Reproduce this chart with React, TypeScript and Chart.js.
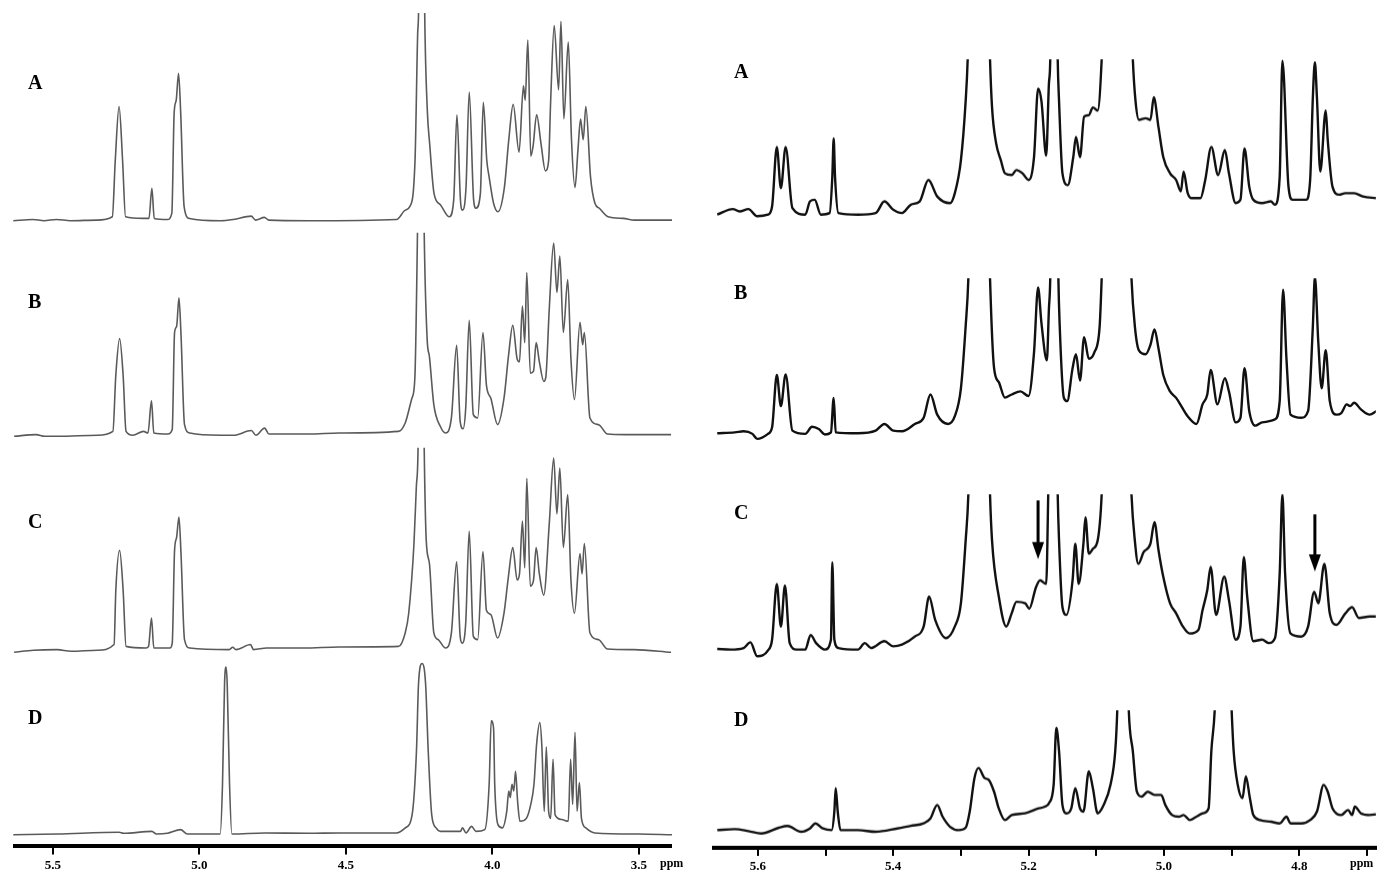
import { useEffect, useRef } from 'react'
import { Chart, registerables } from 'chart.js'

Chart.register(...registerables)

// ---- left column: 3.39 – 5.64 ppm, intensity in % of the plotted height (100 = top of row)
const leftAPpm = [5.635, 5.568, 5.530, 5.488, 5.440, 5.350, 5.297, 5.287, 5.274, 5.262, 5.252, 5.192, 5.177, 5.172, 5.162, 5.154, 5.109, 5.094, 5.086, 5.079, 5.071, 5.064, 5.052, 5.034, 4.929, 4.884, 4.823, 4.808, 4.778, 4.763, 4.628, 4.327, 4.297, 4.282, 4.264, 4.255, 4.252, 4.241, 4.231, 4.222, 4.214, 4.199, 4.177, 4.147, 4.132, 4.121, 4.109, 4.102, 4.090, 4.079, 4.064, 4.056, 4.041, 4.031, 4.019, 4.011, 3.996, 3.981, 3.959, 3.944, 3.929, 3.909, 3.894, 3.888, 3.879, 3.869, 3.861, 3.849, 3.834, 3.819, 3.808, 3.801, 3.789, 3.774, 3.766, 3.756, 3.741, 3.730, 3.718, 3.708, 3.699, 3.690, 3.681, 3.665, 3.650, 3.635, 3.605, 3.553, 3.515, 3.387]
const leftAInt = [0, 0.6, 0, 0.6, 0, 0.3, 1.9, 29, 55, 29, 1.9, 1.1, 1.1, 1.1, 15.6, 1.1, 0.6, 3.5, 52, 58, 71, 53, 6.8, 1.1, 0, 0.6, 2.2, 0.3, 1.6, 0.3, 0, 0.6, 5.1, 6.8, 29, 90, 100, 250, 100, 53, 37, 13, 7.6, 1.9, 10, 51, 10, 5.1, 16, 62, 10, 6, 13, 57, 29, 21, 8.4, 4.3, 16, 39, 56, 33, 65, 58, 87, 31, 36, 51, 37, 24, 29, 58, 94, 63, 96, 49, 86, 39, 16, 34, 49, 39, 55, 21, 8.4, 6, 1.9, 1.1, 0.3, 0.3]

const leftBPpm = [5.635, 5.560, 5.530, 5.485, 5.350, 5.297, 5.287, 5.274, 5.262, 5.252, 5.229, 5.192, 5.177, 5.165, 5.157, 5.109, 5.094, 5.086, 5.079, 5.071, 5.064, 5.052, 5.034, 4.929, 4.884, 4.823, 4.808, 4.778, 4.763, 4.628, 4.523, 4.320, 4.297, 4.274, 4.264, 4.255, 4.243, 4.232, 4.222, 4.214, 4.199, 4.177, 4.159, 4.139, 4.121, 4.109, 4.099, 4.090, 4.078, 4.064, 4.049, 4.031, 4.019, 4.004, 3.981, 3.959, 3.944, 3.929, 3.914, 3.906, 3.896, 3.888, 3.881, 3.869, 3.858, 3.849, 3.838, 3.823, 3.816, 3.804, 3.789, 3.778, 3.768, 3.756, 3.741, 3.730, 3.718, 3.699, 3.690, 3.684, 3.665, 3.635, 3.605, 3.545, 3.387]
const leftBInt = [0, 0.8, 0, 0, 0.5, 2.4, 30, 48, 30, 2.4, 0.5, 2.4, 1.6, 17.4, 1.6, 1.1, 3.3, 51, 54, 68, 50, 5.7, 1.6, 0.5, 0.5, 2.8, 0.5, 4, 1.1, 1.1, 1.6, 2.4, 6.5, 18.7, 28.5, 100, 250, 100, 48, 39, 15.4, 4.9, 1.6, 9, 44.7, 7.3, 3.7, 13.8, 57, 10.6, 9, 51, 25, 18.7, 5.7, 18.7, 39, 54.5, 38, 36.6, 64, 46, 80.5, 31, 32, 46, 36.6, 27, 29, 63, 95, 70.7, 88.6, 51, 77, 38, 18, 56, 45, 51, 9, 5.7, 1.1, 0.8, 0.8]

const leftCPpm = [5.635, 5.568, 5.488, 5.440, 5.350, 5.293, 5.287, 5.274, 5.262, 5.252, 5.184, 5.175, 5.165, 5.157, 5.102, 5.094, 5.086, 5.079, 5.071, 5.064, 5.052, 5.034, 4.899, 4.887, 4.876, 4.826, 4.816, 4.771, 4.643, 4.523, 4.320, 4.297, 4.285, 4.267, 4.259, 4.253, 4.243, 4.232, 4.225, 4.214, 4.199, 4.184, 4.159, 4.139, 4.121, 4.109, 4.102, 4.090, 4.078, 4.064, 4.049, 4.031, 4.019, 4.004, 3.981, 3.959, 3.944, 3.929, 3.914, 3.906, 3.896, 3.888, 3.881, 3.869, 3.858, 3.849, 3.838, 3.823, 3.804, 3.789, 3.778, 3.768, 3.756, 3.741, 3.730, 3.718, 3.699, 3.692, 3.684, 3.665, 3.635, 3.605, 3.515, 3.387]
const leftCInt = [-0.5, 0.5, 0.8, 0, 0.5, 3.3, 30, 49.6, 30, 2.4, 1.6, 2.4, 16.3, 1.6, 1.6, 4, 49.6, 56, 66, 48, 5.7, 1.6, 0.8, 2, 0.8, 3.3, 0.8, 1.6, 1.6, 2.1, 2.4, 9, 18.7, 53, 80.5, 100, 250, 100, 54.5, 43, 9, 5.7, 1.6, 9, 44, 7.3, 4, 13.8, 59, 7.3, 5.7, 49, 20, 18, 6.5, 18.7, 36.6, 51, 35, 38, 64, 41, 85, 32, 35, 51, 38, 27.6, 63, 95, 67.5, 90, 51, 77, 35, 18.7, 48, 38, 53, 9, 5.7, 1.1, 0.8, -0.5]

const leftDPpm = [5.635, 5.485, 5.274, 5.259, 5.162, 5.147, 5.109, 5.064, 5.041, 4.929, 4.921, 4.914, 4.909, 4.905, 4.897, 4.889, 4.778, 4.628, 4.523, 4.327, 4.297, 4.274, 4.259, 4.252, 4.240, 4.228, 4.219, 4.207, 4.192, 4.177, 4.109, 4.102, 4.090, 4.071, 4.056, 4.026, 4.011, 4.004, 3.996, 3.992, 3.981, 3.966, 3.951, 3.944, 3.939, 3.933, 3.927, 3.921, 3.914, 3.906, 3.884, 3.869, 3.858, 3.849, 3.838, 3.831, 3.823, 3.816, 3.808, 3.801, 3.793, 3.786, 3.763, 3.741, 3.733, 3.726, 3.718, 3.711, 3.703, 3.696, 3.681, 3.650, 3.500, 3.387]
const leftDInt = [-0.4, 0, 1, 0.4, 1.5, 0, 0.4, 2.5, 0, 0, 28.6, 86.5, 96, 86.5, 28.6, 0, 0.6, 0.4, 0.6, 0.6, 3.5, 11, 48, 86.5, 98, 86.5, 48, 11, 3.5, 1.5, 1.5, 3.5, 0.6, 4.4, 1.5, 2.5, 28.6, 65, 61, 28.6, 5.4, 3.5, 13, 24.7, 21, 28.6, 24.7, 36, 19, 7.3, 9, 17, 28.6, 51.7, 64, 50, 13, 50, 13, 9, 43, 11, 8.3, 7.3, 43, 17, 58.5, 13, 29.5, 9, 3.5, 0.6, 0, -0.4]

// ---- right column: expanded 4.69 – 5.67 ppm
const rightAPpm = [5.660, 5.637, 5.627, 5.614, 5.601, 5.585, 5.579, 5.572, 5.566, 5.559, 5.549, 5.530, 5.523, 5.516, 5.507, 5.494, 5.490, 5.488, 5.486, 5.481, 5.452, 5.426, 5.413, 5.400, 5.387, 5.374, 5.361, 5.348, 5.335, 5.316, 5.309, 5.300, 5.293, 5.290, 5.274, 5.257, 5.254, 5.248, 5.241, 5.235, 5.225, 5.218, 5.209, 5.200, 5.192, 5.186, 5.181, 5.174, 5.170, 5.168, 5.163, 5.157, 5.155, 5.150, 5.142, 5.134, 5.130, 5.124, 5.118, 5.111, 5.105, 5.098, 5.092, 5.069, 5.046, 5.042, 5.037, 5.027, 5.020, 5.015, 5.008, 5.001, 4.991, 4.982, 4.975, 4.971, 4.965, 4.959, 4.946, 4.939, 4.930, 4.920, 4.910, 4.904, 4.894, 4.887, 4.881, 4.874, 4.868, 4.855, 4.842, 4.836, 4.829, 4.825, 4.816, 4.810, 4.790, 4.784, 4.780, 4.777, 4.774, 4.769, 4.761, 4.758, 4.751, 4.741, 4.732, 4.719, 4.706, 4.686]
const rightAInt = [0, 3.6, 2.1, 3.6, -1, 0, 5.3, 43.6, 17, 43.6, 4.3, 0, 8.5, 9.6, 0, 1, 24.5, 49, 24.5, 1, 0, 1, 8.5, 3.2, 1, 6.4, 8.5, 22.3, 11.7, 7.4, 13.8, 35, 73, 100, 400, 100, 69, 46, 35, 26.6, 25.5, 28.7, 26.6, 22.3, 37, 81, 73, 38, 84, 100, 300, 100, 73, 26.6, 19, 37, 50, 37, 63, 64, 69, 67, 100, 400, 100, 73, 61, 62, 61, 75.5, 56, 37, 26.6, 22.3, 15, 27.7, 14, 10.6, 10.6, 22.3, 43.6, 25.5, 41.5, 26.6, 7.4, 9.6, 42.5, 18, 9.6, 7.4, 8.5, 6.4, 24.5, 99, 18, 9.6, 9.6, 22.3, 75.5, 98, 75.5, 27.7, 67, 48, 18, 12.8, 13.8, 13.8, 11.7, 10.6]

const rightBPpm = [5.660, 5.634, 5.621, 5.608, 5.601, 5.585, 5.579, 5.572, 5.566, 5.559, 5.549, 5.530, 5.520, 5.510, 5.501, 5.492, 5.488, 5.485, 5.452, 5.426, 5.413, 5.400, 5.387, 5.368, 5.355, 5.345, 5.335, 5.319, 5.309, 5.300, 5.293, 5.289, 5.273, 5.257, 5.251, 5.244, 5.235, 5.225, 5.212, 5.200, 5.192, 5.186, 5.181, 5.173, 5.170, 5.168, 5.162, 5.156, 5.154, 5.148, 5.143, 5.135, 5.130, 5.124, 5.118, 5.111, 5.103, 5.095, 5.092, 5.070, 5.048, 5.043, 5.037, 5.027, 5.020, 5.014, 5.008, 5.001, 4.991, 4.982, 4.973, 4.965, 4.952, 4.943, 4.936, 4.931, 4.921, 4.910, 4.904, 4.894, 4.887, 4.881, 4.874, 4.865, 4.855, 4.836, 4.829, 4.824, 4.819, 4.813, 4.797, 4.787, 4.780, 4.777, 4.772, 4.767, 4.761, 4.755, 4.745, 4.738, 4.730, 4.725, 4.719, 4.709, 4.696, 4.686]
const rightBInt = [0, 0.6, 1.3, -0.4, -3.6, -0.4, 3.8, 37.6, 17.5, 38, 1.7, -0.4, 4.2, 2.7, -0.8, 0.6, 22.8, 0.6, 0, 1.7, 6, 1.7, 1.3, 6, 10, 25, 12, 6, 11, 29, 69, 100, 400, 100, 42, 33, 23, 25, 27, 24, 52, 94, 71, 47, 80, 100, 300, 100, 69, 23, 20.7, 42, 51, 34, 62, 48, 52, 69, 100, 400, 100, 69, 53.5, 51, 57, 67, 54.5, 37.6, 27, 22.8, 16.5, 11, 6, 18.6, 25, 40.8, 18.6, 35.5, 27, 7, 10, 42, 14.4, 4.9, 7, 9, 20.7, 92.6, 48, 12, 10, 14.4, 69, 101, 59, 29, 53.5, 20.7, 12, 13, 18.6, 17.5, 19.7, 15.4, 12, 14.4]

const rightCPpm = [5.660, 5.640, 5.621, 5.611, 5.601, 5.585, 5.579, 5.572, 5.566, 5.560, 5.553, 5.543, 5.530, 5.522, 5.514, 5.501, 5.492, 5.490, 5.487, 5.481, 5.452, 5.442, 5.433, 5.413, 5.400, 5.387, 5.368, 5.355, 5.347, 5.338, 5.322, 5.309, 5.300, 5.293, 5.289, 5.273, 5.257, 5.254, 5.244, 5.233, 5.225, 5.218, 5.205, 5.199, 5.189, 5.183, 5.174, 5.171, 5.164, 5.157, 5.155, 5.150, 5.144, 5.135, 5.131, 5.126, 5.119, 5.116, 5.111, 5.105, 5.098, 5.092, 5.070, 5.048, 5.043, 5.038, 5.030, 5.020, 5.014, 5.008, 5.001, 4.991, 4.982, 4.972, 4.962, 4.949, 4.943, 4.936, 4.931, 4.923, 4.911, 4.904, 4.894, 4.887, 4.882, 4.877, 4.868, 4.855, 4.845, 4.836, 4.829, 4.825, 4.821, 4.813, 4.797, 4.787, 4.778, 4.772, 4.763, 4.755, 4.745, 4.732, 4.722, 4.712, 4.696, 4.686]
const rightCInt = [0, -0.4, 0.6, 4.3, -4.7, -0.9, 6, 42, 14.5, 41, 3.8, -0.4, -0.4, 9, 3.8, -0.4, 6, 56, 6, 0.6, -0.4, 3.8, 0.6, 5, 1.7, 2.8, 8, 14.5, 33.8, 18.8, 7, 14.5, 29.5, 70, 100, 400, 100, 70, 33.8, 14.5, 23, 30.5, 29.5, 26, 40, 44.4, 42, 100, 300, 100, 70, 27, 22, 44.4, 68, 42, 68, 85, 61.5, 64.7, 70, 100, 400, 100, 70, 55, 62.6, 68, 82, 63.7, 46.6, 29.5, 23, 14.5, 10, 12.4, 25, 38, 53, 22, 46.6, 31.6, 6, 14.5, 59.4, 33.8, 5, 6, 3.8, 7, 48.7, 100, 48.7, 10, 8, 14.5, 37, 29.5, 55, 23, 15.6, 23, 27, 20, 21, 21]

const rightDPpm = [5.660, 5.634, 5.614, 5.595, 5.569, 5.556, 5.536, 5.523, 5.515, 5.504, 5.491, 5.487, 5.485, 5.482, 5.478, 5.452, 5.426, 5.394, 5.374, 5.355, 5.345, 5.335, 5.327, 5.316, 5.303, 5.293, 5.287, 5.280, 5.274, 5.265, 5.259, 5.251, 5.244, 5.235, 5.225, 5.205, 5.186, 5.176, 5.170, 5.163, 5.159, 5.155, 5.150, 5.144, 5.137, 5.131, 5.124, 5.119, 5.111, 5.105, 5.098, 5.089, 5.079, 5.072, 5.069, 5.061, 5.052, 5.046, 5.040, 5.033, 5.024, 5.014, 5.004, 4.998, 4.988, 4.978, 4.971, 4.962, 4.952, 4.943, 4.934, 4.930, 4.925, 4.913, 4.900, 4.897, 4.891, 4.884, 4.879, 4.873, 4.868, 4.858, 4.842, 4.829, 4.819, 4.813, 4.797, 4.784, 4.774, 4.764, 4.758, 4.751, 4.738, 4.728, 4.722, 4.718, 4.709, 4.696, 4.686]
const rightDInt = [0, 0.8, -0.8, -2.8, 2, 3.4, -1.4, 1.4, 5.6, 1.4, 0, 15.4, 35, 15.4, 0, 0, -1.4, 1.4, 3.6, 5.6, 9.8, 21, 11.2, 2.8, 0, 2, 15.4, 43.4, 51.8, 43.4, 42, 32, 18, 8.4, 12.6, 14, 18, 19.6, 22.4, 37.8, 85.4, 65.8, 21, 14, 18, 35, 18, 15.4, 49, 35, 14, 21, 37.8, 65.8, 100, 300, 100, 65.8, 32, 28, 32, 29.4, 29.4, 21, 12.6, 11.2, 12.6, 8.4, 11.2, 14, 18.2, 65.8, 100, 300, 100, 65.8, 37.8, 26.6, 44.8, 26.6, 12.6, 8.4, 7, 5.6, 11.2, 5.6, 5.6, 8.4, 15.4, 37.8, 32, 18.2, 12.6, 16.8, 12.6, 19.6, 14, 12.6, 13.2]

// arrows marking the new signals in right-hand trace C
const arrowPpm  = [5.186, 4.777]
const arrowFrom = [96, 87]
const arrowTo   = [58, 50]

const rowLabels = ['A', 'B', 'C', 'D']

const SERIF = '"Liberation Serif", "DejaVu Serif", serif'
const AXIS_H = 31

const arrowPlugin = {
  id: 'arrows',
  afterDatasetsDraw(chart: any, _args: any, opts: any) {
    if (!opts?.show) return
    const { ctx, scales: { x, y } } = chart
    ctx.save()
    ctx.strokeStyle = '#000'
    ctx.fillStyle = '#000'
    arrowPpm.forEach((p, i) => {
      const px = x.getPixelForValue(p)
      const y0 = y.getPixelForValue(arrowFrom[i])
      const y1 = y.getPixelForValue(arrowTo[i])
      ctx.lineWidth = 3
      ctx.beginPath(); ctx.moveTo(px, y0); ctx.lineTo(px, y1 - 12); ctx.stroke()
      ctx.beginPath()
      ctx.moveTo(px - 6, y1 - 17); ctx.lineTo(px + 6, y1 - 17); ctx.lineTo(px, y1)
      ctx.closePath(); ctx.fill()
    })
    ctx.restore()
  },
}

type AxisCfg = { step: number; fmt: (v: number) => string }

type Props = {
  ppm: number[]; ints: number[]
  left: number; width: number
  top: number; baseline: number; bottom: number
  xMin: number; xMax: number
  color: string; lw: number
  axis?: AxisCfg; arrows?: boolean
}

function Spectrum({ ppm, ints, left, width, top, baseline, bottom, xMin, xMax, color, lw, axis, arrows }: Props) {
  const ref = useRef<HTMLCanvasElement>(null)
  const yMin = -((bottom - baseline) / (baseline - top)) * 100
  const height = bottom - top + (axis ? AXIS_H : 0)

  useEffect(() => {
    if (!ref.current) return
    const chart = new Chart(ref.current, {
      type: 'line',
      data: {
        datasets: [{
          data: ppm.map((x, i) => ({ x, y: ints[i] })),
          borderColor: color, borderWidth: lw,
          pointRadius: 0, fill: false,
          cubicInterpolationMode: 'monotone',
        }],
      },
      options: {
        animation: false, responsive: true, maintainAspectRatio: false,
        layout: { padding: 0 },
        plugins: { legend: { display: false }, tooltip: { enabled: false }, arrows: { show: !!arrows } } as any,
        scales: {
          x: {
            type: 'linear', reverse: true, min: xMin, max: xMax, display: !!axis,
            border: { display: true, color: '#000', width: 4 },
            grid: { display: true, drawOnChartArea: false, drawTicks: true, tickLength: 8, tickWidth: 2, tickColor: '#000', lineWidth: 2 },
            ticks: {
              stepSize: axis?.step, includeBounds: false, autoSkip: false, maxRotation: 0, padding: 3,
              color: '#000', font: { family: SERIF, weight: 'bold', size: 13 },
              callback: (v: any) => axis ? axis.fmt(Number(v)) : '',
            },
          },
          y: { display: false, min: yMin, max: 100 },
        },
      },
      plugins: [arrowPlugin],
    })
    return () => chart.destroy()
  }, [ppm, ints, xMin, xMax, yMin, color, lw, axis, arrows])

  return (
    <div style={{ position: 'absolute', left, top, width, height }}>
      <canvas ref={ref} />
    </div>
  )
}

const leftAxis: AxisCfg = { step: 0.5, fmt: v => v.toFixed(1) }
const rightAxis: AxisCfg = {
  step: 0.1,
  fmt: v => { const k = Math.round(v * 10); return k % 2 === 0 ? (k / 10).toFixed(1) : '' },
}

const L = { left: 13, width: 659, xMin: 3.387, xMax: 5.636, color: '#5a5a5a', lw: 1.6 }
const R = { left: 712, width: 665, xMin: 4.687, xMax: 5.666, color: '#111', lw: 2.4 }

const leftRows = [
  { ppm: leftAPpm, ints: leftAInt, top: 13, baseline: 220.7, bottom: 228 },
  { ppm: leftBPpm, ints: leftBInt, top: 231.7, baseline: 436.7, bottom: 445 },
  { ppm: leftCPpm, ints: leftCInt, top: 446.7, baseline: 651.7, bottom: 660 },
  { ppm: leftDPpm, ints: leftDInt, top: 660, baseline: 832.7, bottom: 845 },
]
const rightRows = [
  { ppm: rightAPpm, ints: rightAInt, top: 58.3, baseline: 215, bottom: 228 },
  { ppm: rightBPpm, ints: rightBInt, top: 276.7, baseline: 434, bottom: 445 },
  { ppm: rightCPpm, ints: rightCInt, top: 493.3, baseline: 649.3, bottom: 662 },
  { ppm: rightDPpm, ints: rightDInt, top: 709.3, baseline: 828.3, bottom: 846 },
]

const leftLabelY = [83, 302, 522, 718]
const rightLabelY = [72, 293, 513, 720]

const letterStyle = (x: number, y: number): React.CSSProperties => ({
  position: 'absolute', left: x - 7, top: y - 11, fontFamily: SERIF, fontWeight: 'bold',
  fontSize: 20, lineHeight: '20px', color: '#000',
})
const ppmStyle = (x: number): React.CSSProperties => ({
  position: 'absolute', left: x, top: 856, fontFamily: SERIF, fontWeight: 'bold',
  fontSize: 12, lineHeight: '14px', color: '#000',
})

export default function App() {
  return (
    <div style={{ position: 'absolute', left: 0, top: 0, width: 1377, height: 879, background: '#fff', overflow: 'hidden' }}>
      {leftRows.map((r, i) => (
        <Spectrum key={'l' + i} {...L} {...r} axis={i === 3 ? leftAxis : undefined} />
      ))}
      {rightRows.map((r, i) => (
        <Spectrum key={'r' + i} {...R} {...r} axis={i === 3 ? rightAxis : undefined} arrows={i === 2} />
      ))}
      {rowLabels.map((t, i) => <div key={'la' + t} style={letterStyle(35, leftLabelY[i])}>{t}</div>)}
      {rowLabels.map((t, i) => <div key={'ra' + t} style={letterStyle(741, rightLabelY[i])}>{t}</div>)}
      <span style={ppmStyle(660)}>ppm</span>
      <span style={ppmStyle(1350)}>ppm</span>
    </div>
  )
}
